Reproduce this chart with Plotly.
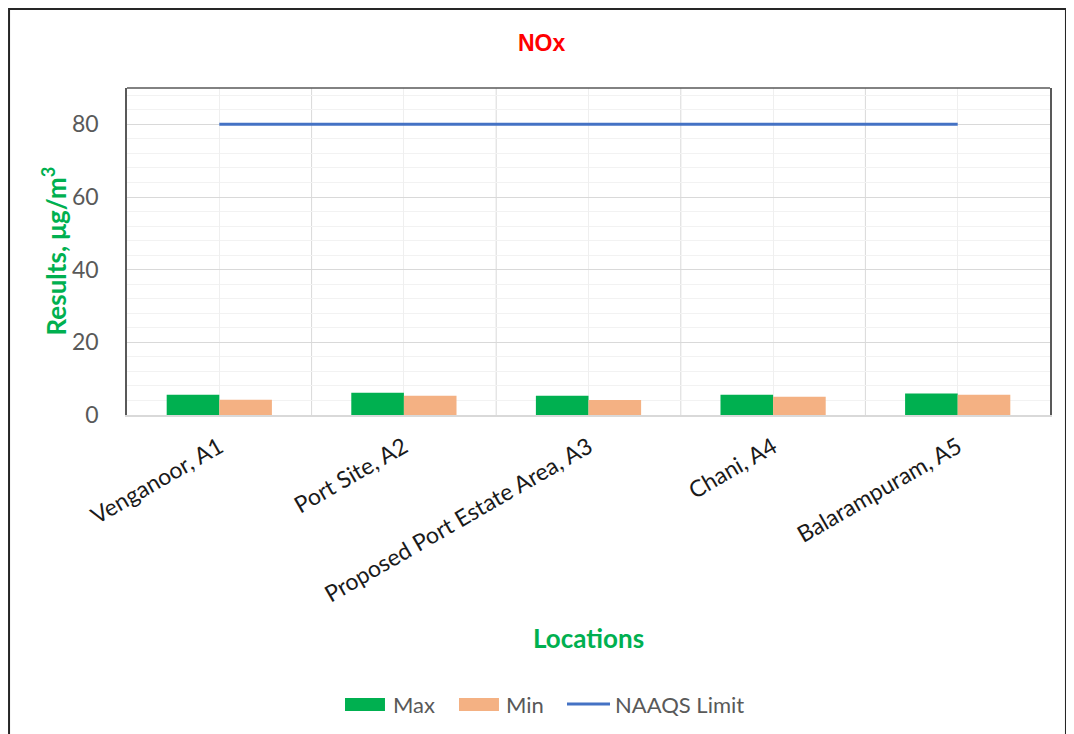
import plotly.graph_objects as go

locations = ["Venganoor, A1", "Port Site, A2", "Proposed Port Estate Area, A3", "Chani, A4", "Balarampuram, A5"]
max_vals = [5.6, 6.1, 5.3, 5.6, 5.9]
min_vals = [4.2, 5.3, 4.1, 5.0, 5.6]
naaqs = [80, 80, 80, 80, 80]
series_names = ["Max", "Min", "NAAQS Limit"]
colors = ["#00B050", "#F4B183", "#4472C4"]

FONT = "Lato"
fig = go.Figure()
fig.add_trace(go.Bar(x=locations, y=max_vals, name=series_names[0], marker_color=colors[0],
                     marker_line_width=0))
fig.add_trace(go.Bar(x=locations, y=min_vals, name=series_names[1], marker_color=colors[1],
                     marker_line_width=0))
fig.add_trace(go.Scatter(x=locations, y=naaqs, name=series_names[2], mode="lines",
                         line=dict(color=colors[2], width=3)))

# page body has an 8px margin: compensate so the plot area lands where the reference has it
fig.update_layout(
    width=1066, height=726,
    margin=dict(l=119, r=24, t=80, b=319),
    paper_bgcolor="white", plot_bgcolor="white",
    barmode="group", bargap=0.43, bargroupgap=0,
    font=dict(family=FONT, color="#595959", size=20),
    showlegend=False,
    xaxis=dict(showgrid=True, gridcolor="#EFEFEF", gridwidth=1, tickangle=-30,
               tickfont=dict(size=23, color="#1a1a1a"), ticklabelstandoff=8,
               showline=True, linecolor="#D9D9D9", linewidth=1.5, ticks=""),
    yaxis=dict(range=[0, 90], dtick=20, showgrid=True, gridcolor="#D9D9D9", gridwidth=1,
               tickfont=dict(size=23, color="#595959"), ticks="", ticklabelstandoff=22,
               showline=True, linecolor="#595959", linewidth=1.5, mirror=True, zeroline=False,
               minor=dict(dtick=4, showgrid=True, gridcolor="#F2F2F2", gridwidth=1)),
)

annotations = [
    dict(text="<b>NOx</b>", x=0.4496, y=1.138, xref="paper", yref="paper", showarrow=False,
         font=dict(size=23, color="#FF0000", family="Liberation Sans"),
         xanchor="center", yanchor="middle"),
    dict(text="<b>Results, μg/m<sup>3</sup></b>", x=-0.078, y=0.5, xref="paper", yref="paper",
         showarrow=False, textangle=-90, font=dict(size=26, color="#00B050", family=FONT),
         xanchor="center", yanchor="middle"),
    dict(text="<b>Locations</b>", x=0.5, y=-0.683, xref="paper", yref="paper",
         showarrow=False, font=dict(size=26, color="#00B050", family=FONT),
         xanchor="center", yanchor="middle"),
]

# custom legend (wide swatches as in the reference)
leg_y = -0.8838
shapes = [
    dict(type="rect", xref="paper", yref="paper", x0=0.2362, x1=0.2795, y0=-0.9052, y1=-0.8654,
         fillcolor=colors[0], line=dict(width=0)),
    dict(type="rect", xref="paper", yref="paper", x0=0.3597, x1=0.4030, y0=-0.9052, y1=-0.8654,
         fillcolor=colors[1], line=dict(width=0)),
    dict(type="line", xref="paper", yref="paper", x0=0.4767, x1=0.5233, y0=leg_y, y1=leg_y,
         line=dict(color=colors[2], width=3)),
    dict(type="rect", xref="paper", yref="paper", x0=-0.1278, x1=1.0173, y0=-1.05, y1=1.2416,
         line=dict(color="#262626", width=2), fillcolor="rgba(0,0,0,0)", layer="above"),
    dict(type="line", xref="paper", yref="paper", x0=0, x1=1, y0=1, y1=1,
         line=dict(color="#595959", width=1.5)),
]
for xpos, name in zip([0.2860, 0.4085, 0.5265], series_names):
    annotations.append(dict(text=name, x=xpos, y=leg_y, xref="paper", yref="paper",
                            showarrow=False, xanchor="left", yanchor="middle",
                            font=dict(size=22, color="#595959", family=FONT)))

for b in [0.5, 1.5, 2.5, 3.5]:
    shapes.append(dict(type="line", xref="x", yref="paper", x0=b, x1=b, y0=0, y1=1,
                       line=dict(color="#D9D9D9", width=1), layer="below"))

fig.update_layout(annotations=annotations, shapes=shapes)
fig.write_html("out.html")
